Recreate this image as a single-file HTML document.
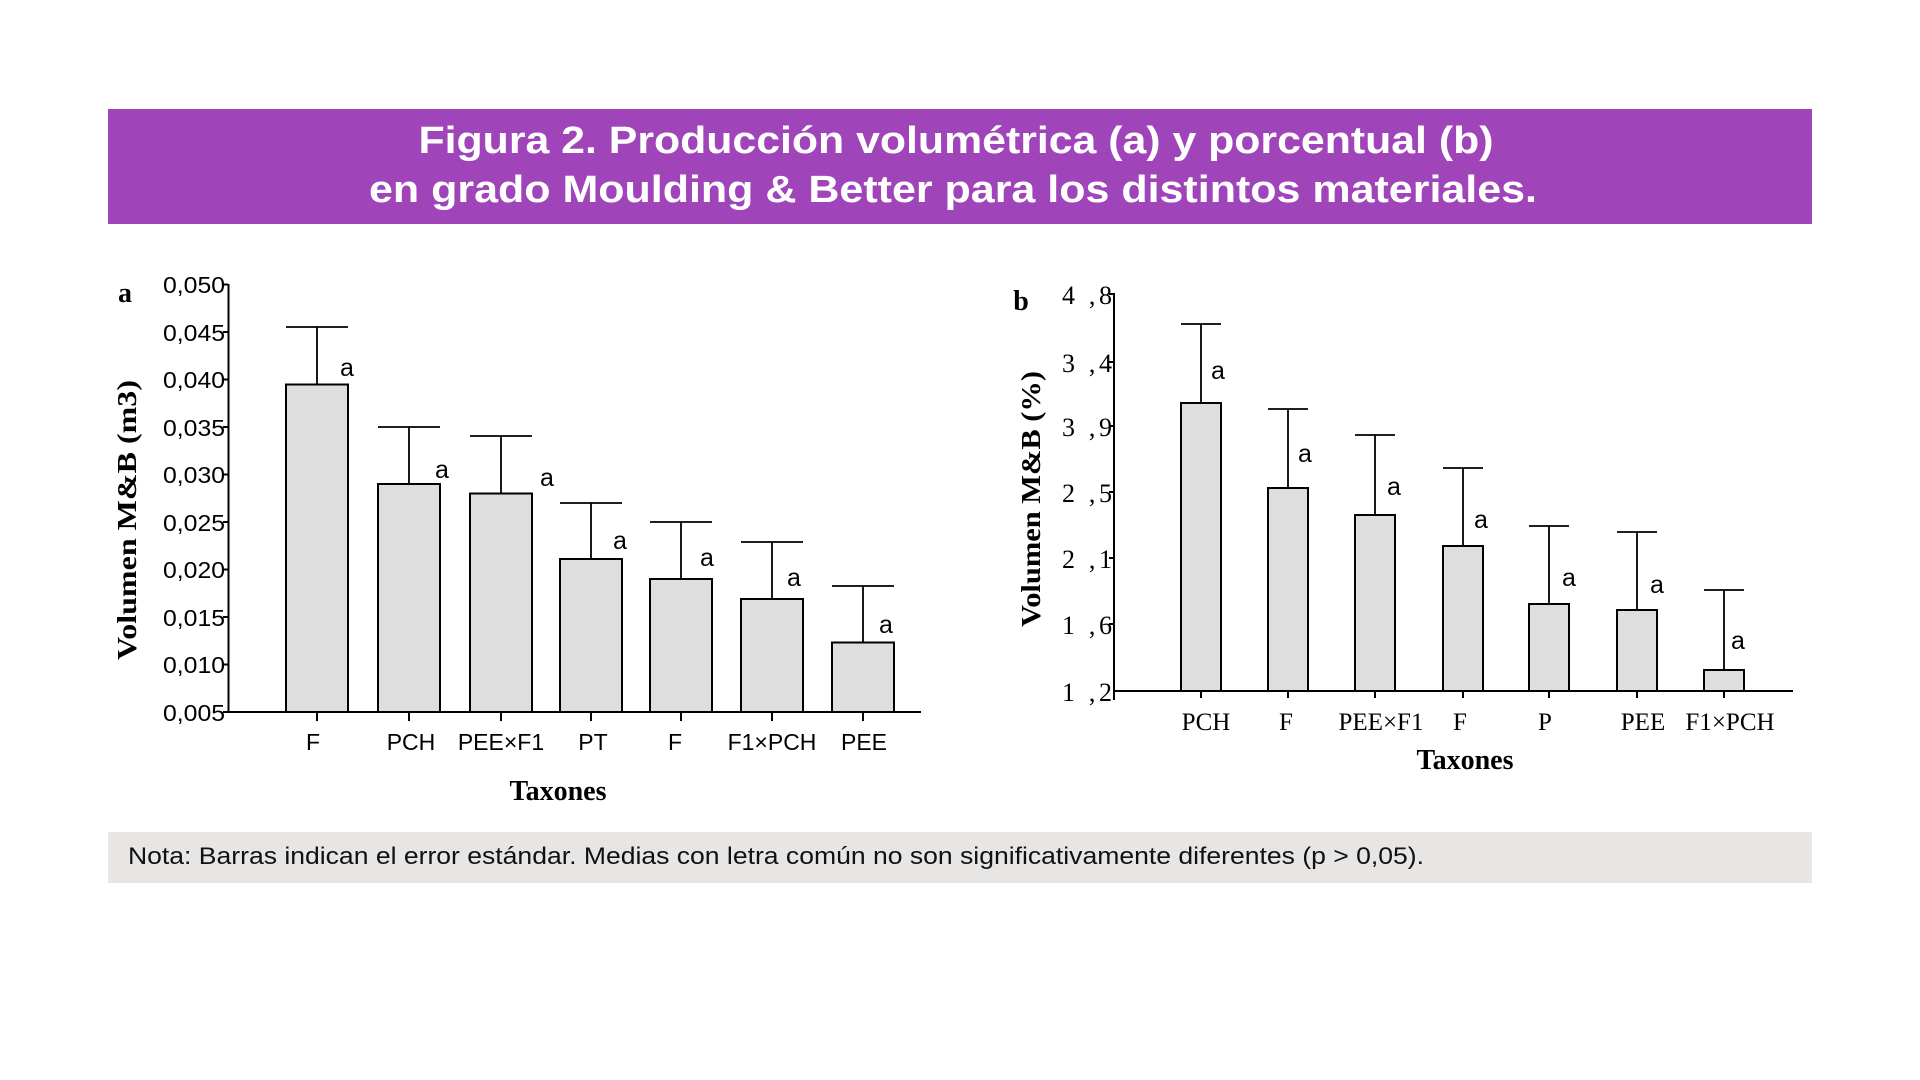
<!DOCTYPE html>
<html><head><meta charset="utf-8"><style>html,body{margin:0;padding:0;background:#fff;width:1920px;height:1080px;overflow:hidden}</style></head>
<body>
<svg width="1920" height="1080" viewBox="0 0 1920 1080" xmlns="http://www.w3.org/2000/svg">
<rect x="108" y="109" width="1704" height="115" fill="#A044BA"/>
<g font-family="Liberation Sans, sans-serif" font-weight="bold" fill="#fff" font-size="38" text-anchor="middle">
<text x="956" y="153" textLength="1075" lengthAdjust="spacingAndGlyphs">Figura 2. Producción volumétrica (a) y porcentual (b)</text>
<text x="953" y="202" textLength="1168" lengthAdjust="spacingAndGlyphs">en grado Moulding &amp; Better para los distintos materiales.</text>
</g>
<rect x="108" y="832" width="1704" height="51" fill="#E8E5E5"/>
<text x="128" y="864" font-family="Liberation Sans, sans-serif" font-size="24" fill="#111" textLength="1296" lengthAdjust="spacingAndGlyphs">Nota: Barras indican el error estándar. Medias con letra común no son significativamente diferentes (p &gt; 0,05).</text>

<!-- Chart a -->
<g stroke="#000" stroke-width="2" fill="none">
<line x1="228.5" y1="284" x2="228.5" y2="712"/>
<line x1="228" y1="712" x2="921" y2="712"/>
<g>
<line x1="223" y1="284.5" x2="228" y2="284.5"/><line x1="223" y1="332" x2="228" y2="332"/><line x1="223" y1="379.5" x2="228" y2="379.5"/><line x1="223" y1="427" x2="228" y2="427"/><line x1="223" y1="474.5" x2="228" y2="474.5"/><line x1="223" y1="522" x2="228" y2="522"/><line x1="223" y1="569.5" x2="228" y2="569.5"/><line x1="223" y1="617" x2="228" y2="617"/><line x1="223" y1="664.5" x2="228" y2="664.5"/><line x1="223" y1="712" x2="228" y2="712"/>
</g>
<g>
<line x1="317" y1="712" x2="317" y2="721"/><line x1="409" y1="712" x2="409" y2="721"/><line x1="501" y1="712" x2="501" y2="721"/><line x1="591" y1="712" x2="591" y2="721"/><line x1="681" y1="712" x2="681" y2="721"/><line x1="772" y1="712" x2="772" y2="721"/><line x1="863" y1="712" x2="863" y2="721"/>
</g>
<g stroke-width="1.8">
<line x1="317" y1="327" x2="317" y2="384"/><line x1="286" y1="327" x2="348" y2="327"/>
<line x1="409" y1="427" x2="409" y2="484"/><line x1="378" y1="427" x2="440" y2="427"/>
<line x1="501" y1="436" x2="501" y2="493"/><line x1="470" y1="436" x2="532" y2="436"/>
<line x1="591" y1="503" x2="591" y2="559"/><line x1="560" y1="503" x2="622" y2="503"/>
<line x1="681" y1="522" x2="681" y2="579"/><line x1="650" y1="522" x2="712" y2="522"/>
<line x1="772" y1="542" x2="772" y2="599"/><line x1="741" y1="542" x2="803" y2="542"/>
<line x1="863" y1="586" x2="863" y2="642"/><line x1="832" y1="586" x2="894" y2="586"/>
</g>
<g fill="#DEDEDE">
<rect x="286" y="384.5" width="62" height="327.5"/>
<rect x="378" y="484" width="62" height="228"/>
<rect x="470" y="493.5" width="62" height="218.5"/>
<rect x="560" y="559" width="62" height="153"/>
<rect x="650" y="579" width="62" height="133"/>
<rect x="741" y="599" width="62" height="113"/>
<rect x="832" y="642.5" width="62" height="69.5"/>
</g>
</g>
<g font-family="Liberation Sans, sans-serif" font-size="23" fill="#000" text-anchor="end">
<text x="225" y="293" textLength="62" lengthAdjust="spacingAndGlyphs">0,050</text>
<text x="225" y="341" textLength="62" lengthAdjust="spacingAndGlyphs">0,045</text>
<text x="225" y="388" textLength="62" lengthAdjust="spacingAndGlyphs">0,040</text>
<text x="225" y="436" textLength="62" lengthAdjust="spacingAndGlyphs">0,035</text>
<text x="225" y="483" textLength="62" lengthAdjust="spacingAndGlyphs">0,030</text>
<text x="225" y="531" textLength="62" lengthAdjust="spacingAndGlyphs">0,025</text>
<text x="225" y="578" textLength="62" lengthAdjust="spacingAndGlyphs">0,020</text>
<text x="225" y="626" textLength="62" lengthAdjust="spacingAndGlyphs">0,015</text>
<text x="225" y="673" textLength="62" lengthAdjust="spacingAndGlyphs">0,010</text>
<text x="225" y="721" textLength="62" lengthAdjust="spacingAndGlyphs">0,005</text>
</g>
<g font-family="Liberation Sans, sans-serif" font-size="23" fill="#000" text-anchor="middle">
<text x="313" y="750">F</text><text x="411" y="750">PCH</text><text x="501" y="750">PEE×F1</text><text x="593" y="750">PT</text><text x="675" y="750">F</text><text x="772" y="750">F1×PCH</text><text x="864" y="750">PEE</text>
</g>
<g font-family="Liberation Sans, sans-serif" font-size="25" fill="#000" text-anchor="middle">
<text x="347" y="376">a</text><text x="442" y="478">a</text><text x="547" y="486">a</text><text x="620" y="549">a</text><text x="707" y="566">a</text><text x="794" y="586">a</text><text x="886" y="633">a</text>
</g>
<text x="558" y="800" font-family="Liberation Serif, serif" font-weight="bold" font-size="28" text-anchor="middle">Taxones</text>
<text x="125" y="302" font-family="Liberation Serif, serif" font-weight="bold" font-size="28" text-anchor="middle">a</text>
<text transform="translate(136,520) rotate(-90)" font-family="Liberation Serif, serif" font-weight="bold" font-size="27" text-anchor="middle" textLength="280" lengthAdjust="spacingAndGlyphs">Volumen  M&amp;B (m3)</text>

<!-- Chart b -->
<g stroke="#000" stroke-width="2" fill="none">
<line x1="1114" y1="293" x2="1114" y2="700"/>
<line x1="1114" y1="691" x2="1793" y2="691"/>
<g>
<line x1="1109" y1="294" x2="1114" y2="294"/><line x1="1109" y1="362" x2="1114" y2="362"/><line x1="1109" y1="426" x2="1114" y2="426"/><line x1="1109" y1="492" x2="1114" y2="492"/><line x1="1109" y1="558" x2="1114" y2="558"/><line x1="1109" y1="624" x2="1114" y2="624"/>
</g>
<g>
<line x1="1201" y1="691" x2="1201" y2="698"/><line x1="1288" y1="691" x2="1288" y2="698"/><line x1="1375" y1="691" x2="1375" y2="698"/><line x1="1463" y1="691" x2="1463" y2="698"/><line x1="1549" y1="691" x2="1549" y2="698"/><line x1="1637" y1="691" x2="1637" y2="698"/><line x1="1724" y1="691" x2="1724" y2="698"/>
</g>
<g stroke-width="1.8">
<line x1="1201" y1="324" x2="1201" y2="403"/><line x1="1181" y1="324" x2="1221" y2="324"/>
<line x1="1288" y1="409" x2="1288" y2="488"/><line x1="1268" y1="409" x2="1308" y2="409"/>
<line x1="1375" y1="435" x2="1375" y2="515"/><line x1="1355" y1="435" x2="1395" y2="435"/>
<line x1="1463" y1="468" x2="1463" y2="546"/><line x1="1443" y1="468" x2="1483" y2="468"/>
<line x1="1549" y1="526" x2="1549" y2="604"/><line x1="1529" y1="526" x2="1569" y2="526"/>
<line x1="1637" y1="532" x2="1637" y2="610"/><line x1="1617" y1="532" x2="1657" y2="532"/>
<line x1="1724" y1="590" x2="1724" y2="670"/><line x1="1704" y1="590" x2="1744" y2="590"/>
</g>
<g fill="#DEDEDE">
<rect x="1181" y="403" width="40" height="288"/>
<rect x="1268" y="488" width="40" height="203"/>
<rect x="1355" y="515" width="40" height="176"/>
<rect x="1443" y="546" width="40" height="145"/>
<rect x="1529" y="604" width="40" height="87"/>
<rect x="1617" y="610" width="40" height="81"/>
<rect x="1704" y="670" width="40" height="21"/>
</g>
</g>
<g font-family="Liberation Serif, serif" font-size="26" fill="#000">
<text x="1062" y="304" textLength="50" lengthAdjust="spacing">4 ,8</text><text x="1062" y="372" textLength="50" lengthAdjust="spacing">3 ,4</text><text x="1062" y="436" textLength="50" lengthAdjust="spacing">3 ,9</text><text x="1062" y="502" textLength="50" lengthAdjust="spacing">2 ,5</text><text x="1062" y="568" textLength="50" lengthAdjust="spacing">2 ,1</text><text x="1062" y="634" textLength="50" lengthAdjust="spacing">1 ,6</text><text x="1062" y="701" textLength="50" lengthAdjust="spacing">1 ,2</text>
</g>
<g font-family="Liberation Serif, serif" font-size="25" fill="#000" text-anchor="middle">
<text x="1206" y="730">PCH</text><text x="1286" y="730">F</text><text x="1381" y="730">PEE×F1</text><text x="1460" y="730">F</text><text x="1545" y="730">P</text><text x="1643" y="730">PEE</text><text x="1730" y="730">F1×PCH</text>
</g>
<g font-family="Liberation Sans, sans-serif" font-size="25" fill="#000" text-anchor="middle">
<text x="1218" y="379">a</text><text x="1305" y="462">a</text><text x="1394" y="495">a</text><text x="1481" y="528">a</text><text x="1569" y="586">a</text><text x="1657" y="593">a</text><text x="1738" y="649">a</text>
</g>
<text x="1465" y="769" font-family="Liberation Serif, serif" font-weight="bold" font-size="28" text-anchor="middle">Taxones</text>
<text x="1021" y="310" font-family="Liberation Serif, serif" font-weight="bold" font-size="28" text-anchor="middle">b</text>
<text transform="translate(1040,499) rotate(-90)" font-family="Liberation Serif, serif" font-weight="bold" font-size="27" text-anchor="middle" textLength="256" lengthAdjust="spacingAndGlyphs">Volumen M&amp;B (%)</text>
</svg>
</body></html>
